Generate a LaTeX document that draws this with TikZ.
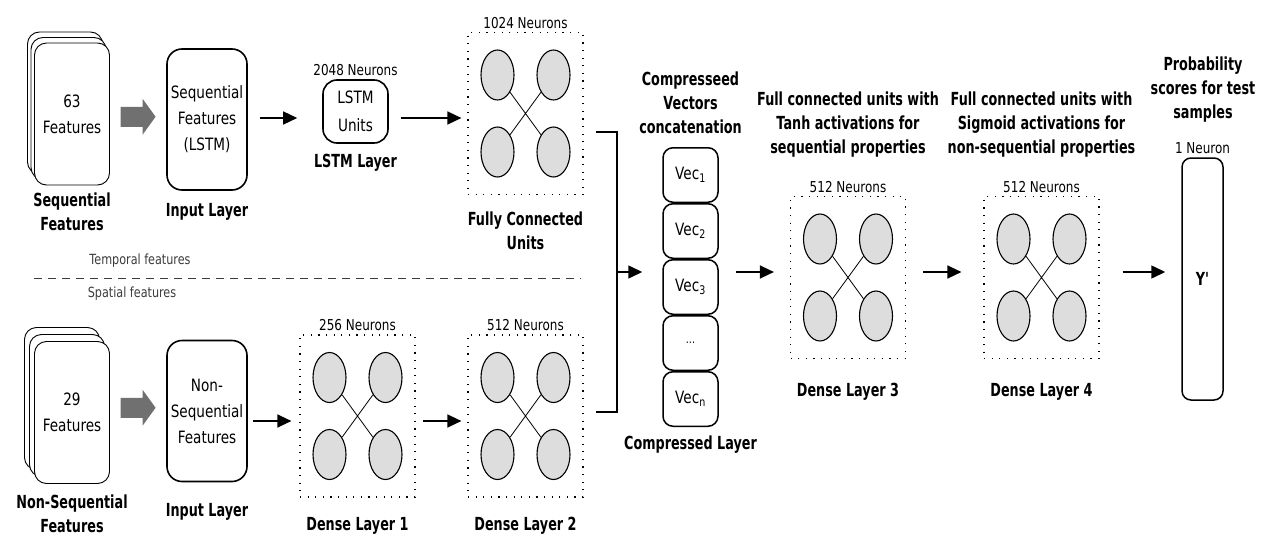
\documentclass[tikz,border=0pt]{standalone}
\usepackage{fontspec}
\setmainfont{DejaVu Sans}[FakeStretch=0.8]
\newfontfamily\headfont{DejaVu Sans}[FakeStretch=0.71]
\usetikzlibrary{%
  arrows.meta,% Triangle tips
  shapes.geometric,% ellipse
  positioning,% wg. " of "
  calc%
}
\definecolor{neurongray}{RGB}{221,221,221}
\definecolor{fatgray}{RGB}{112,112,112}
\definecolor{notegray}{RGB}{60,60,60}

\begin{document}
\begin{tikzpicture}[x=1pt,y=-1pt,
	>={Triangle[length=14pt,width=13pt]},
	card/.style={
	rectangle,draw,line width=0.9pt,fill=white,
	rounded corners=12pt,
	minimum width=75pt,minimum height=142pt,
	align=center,font=\fontsize{17}{26}\selectfont
	},inbox/.style={
	rectangle,draw,line width=1.6pt,rounded corners=15pt,
	minimum width=80pt,minimum height=141pt,
	align=center,font=\fontsize{17}{26}\selectfont
	},unitbox/.style={
	rectangle,draw,line width=1.6pt,rounded corners=14pt,
	minimum width=65pt,minimum height=63pt,
	align=center,font=\fontsize{17}{28}\selectfont
	},nbox/.style={
	rectangle,draw,line width=1.2pt,dash pattern=on 1.2pt off 6.4pt,
	minimum width=115pt,minimum height=162pt
	},neuron/.style={
	ellipse,draw,line width=1.1pt,fill=neurongray,
	minimum width=33pt,minimum height=50pt
	},vecbox/.style={
	rectangle,draw,line width=1.5pt,rounded corners=10pt,
	minimum width=55pt,minimum height=54.5pt,
	font=\fontsize{17}{20}\selectfont
	},outbox/.style={
	rectangle,draw,line width=1.5pt,rounded corners=9pt,
	minimum width=41pt,minimum height=242pt,
	font=\headfont\bfseries\fontsize{18}{22}\selectfont
	},caption/.style={
	align=center,font=\headfont\bfseries\fontsize{18}{24}\selectfont
	},count/.style={
	inner sep=3pt,font=\fontsize{15}{17}\selectfont
	},note/.style={
	text=notegray,font=\fontsize{14}{16}\selectfont
	},flow/.style={
	->,line width=1.5pt
	}
]
\useasboundingbox (0,0) rectangle (1265,535);

% upper branch: sequential features
\node (seqcard3) [card] at (65,103) {};
\node (seqcard2) [card] at (68.5,108.5) {};
\node (seqcard) [card] at (72,114) {63\\Features};
\node (seqcap) [caption] at (72,212) {Sequential\\Features};

\node (seqin) [inbox] at (207,119.5) {Sequential\\Features\\(LSTM)};
\node (seqincap) [caption] at (207,212) {Input Layer};

\node (lstm) [unitbox] at (355.5,111.5) {LSTM\\Units};
\node (lstmcount) [count,above=0pt of lstm] {2048 Neurons};
\node (lstmcap) [caption] at (355.5,163) {LSTM Layer};

\node (fc) [nbox] at (525.5,113.5) {};
\node (fccount) [count,above=0pt of fc] {1024 Neurons};
\node (fccap) [caption] at (525.5,230.5) {Fully Connected\\Units};

% lower branch: non-sequential features
\node (nseqcard3) [card] at (62,398.5) {};
\node (nseqcard2) [card] at (67,405.5) {};
\node (nseqcard) [card] at (72,412.5) {29\\Features};
\node (nseqcap) [caption] at (72,513.5) {Non-Sequential\\Features};

\node (nseqin) [inbox] at (207,411) {Non-\\Sequential\\Features};
\node (nseqincap) [caption] at (207,512) {Input Layer};

\node (dense1) [nbox] at (357.5,416) {};
\node (dense1count) [count,above=0pt of dense1] {256 Neurons};
\node (dense1cap) [caption] at (357.5,526) {Dense Layer 1};

\node (dense2) [nbox] at (525.5,416) {};
\node (dense2count) [count,above=0pt of dense2] {512 Neurons};
\node (dense2cap) [caption] at (525.5,526) {Dense Layer 2};

% split between the two branches
\coordinate (splitL) at (34,278);
\coordinate (splitR) at (581,278);
\draw[line width=1pt,notegray,dash pattern=on 8pt off 6pt] (splitL) -- (splitR);
\node (temporal) [note] at (140,261) {Temporal features};
\node (spatial) [note] at (132,294) {Spatial features};

% compressed layer
\node (vec1) [vecbox] at (690.5,175) {Vec\textsubscript{1}};
\node (vec2) [vecbox,below=0pt of vec1] {Vec\textsubscript{2}};
\node (vec3) [vecbox,below=0pt of vec2] {Vec\textsubscript{3}};
\node (vecdots) [vecbox,below=0pt of vec3] {\fontsize{12}{12}\selectfont ...};
\node (vecn) [vecbox,below=0pt of vecdots] {Vec\textsubscript{n}};
\node (vechead) [caption] at (690.5,102.5) {Compresseed\\Vectors\\concatenation};
\node (veccap) [caption] at (690.5,445) {Compressed Layer};

% dense layers 3 and 4, output
\node (dense3) [nbox] at (848,277.5) {};
\node (dense3count) [count,above=0pt of dense3] {512 Neurons};
\node (dense3head) [caption] at (848,125) {Full connected units with\\Tanh activations for\\sequential properties};
\node (dense3cap) [caption] at (848,392) {Dense Layer 3};

\node (dense4) [nbox] at (1041.5,277.5) {};
\node (dense4count) [count,above=0pt of dense4] {512 Neurons};
\node (dense4head) [caption] at (1041.5,125) {Full connected units with\\Sigmoid activations for\\non-sequential properties};
\node (dense4cap) [caption] at (1041.5,392) {Dense Layer 4};

\node (yout) [outbox] at (1202.5,279) {Y'};
\node (youtcount) [count,above=0pt of yout] {1 Neuron};
\node (youthead) [caption] at (1203,90) {Probability\\scores for test\\samples};

% four neurons in every dotted block
\foreach \blk in {fc,dense1,dense2,dense3,dense4} {
  \node (\blk-tl) [neuron] at ([shift={(-28,-38.5)}]\blk.center) {};
  \node (\blk-tr) [neuron] at ([shift={(28,-38.5)}]\blk.center) {};
  \node (\blk-bl) [neuron] at ([shift={(-28,38.5)}]\blk.center) {};
  \node (\blk-br) [neuron] at ([shift={(28,38.5)}]\blk.center) {};
  \draw[line width=0.8pt] (\blk-tl) -- (\blk-br) (\blk-tr) -- (\blk-bl);
}

% fat arrows into the input layers
\fill[fatgray] ($(seqcard.east)!0.5!(seqin.west)$) ++(-17.5,-10) -- ++(22,0) -- ++(0,-8)
	-- ++(13,18) -- ++(-13,18) -- ++(0,-8) -- ++(-22,0) -- cycle;
\fill[fatgray] ($(nseqcard.east)!0.5!(nseqin.west)$) ++(-17.5,-14) -- ++(22,0) -- ++(0,-8)
	-- ++(13,18) -- ++(-13,18) -- ++(0,-8) -- ++(-22,0) -- cycle;

% connectors
\coordinate (row1) at (0,118);
\coordinate (row2) at (0,421);
\coordinate (row3) at (0,272);
\coordinate (bracktop) at (617,132);
\coordinate (brackbot) at (617,412);
\coordinate (merge) at (617,272);

\draw[flow,shorten >=25pt] ([xshift=12pt]seqin.east |- row1) -- (lstm.west |- row1);
\draw[flow,shorten >=6pt] ([xshift=12pt]lstm.east |- row1) -- (fc.west |- row1);
\draw[flow,shorten >=8pt] ([xshift=5pt]nseqin.east |- row2) -- (dense1.west |- row2);
\draw[flow,shorten >=6pt] ([xshift=7pt]dense1.east |- row2) -- (dense2.west |- row2);
\draw[line width=1.4pt] ([xshift=12pt]fc.east |- bracktop) -- (bracktop) -- (brackbot)
	-- ([xshift=12pt]dense2.east |- brackbot);
\draw[flow,shorten >=20pt] (merge) -- (vec3.west |- merge);
\draw[flow,shorten >=16pt] ([xshift=17pt]vec3.east |- row3) -- (dense3.west |- row3);
\draw[flow,shorten >=22pt] ([xshift=17pt]dense3.east |- row3) -- (dense4.west |- row3);
\draw[flow,shorten >=16pt] ([xshift=23pt]dense4.east |- row3) -- (yout.west |- row3);

\end{tikzpicture}
\end{document}
